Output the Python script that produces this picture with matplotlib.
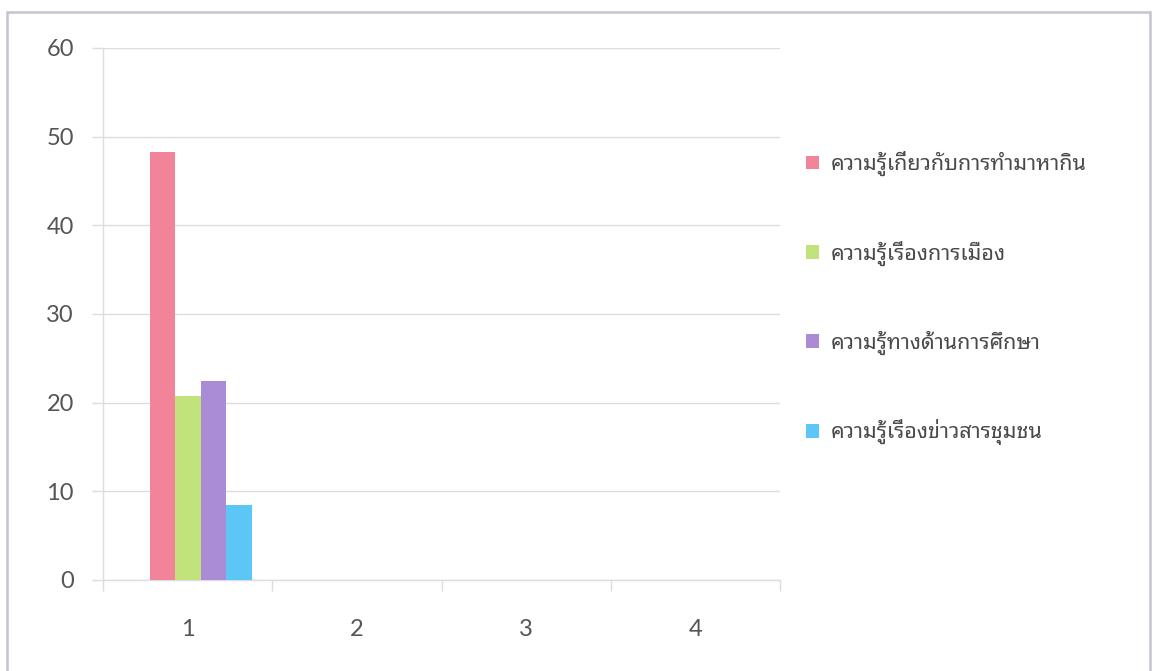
import matplotlib
matplotlib.use("Agg")
import matplotlib.pyplot as plt
from matplotlib.patches import Rectangle
import numpy as np

categories = ["1", "2", "3", "4"]
series_names = ["ความรู้เกี่ยวกับการทำมาหากิน", "ความรู้เรื่องการเมือง",
                "ความรู้ทางด้านการศึกษา", "ความรู้เรื่องข่าวสารชุมชน"]
s1 = [48.3, 0, 0, 0]
s2 = [20.7, 0, 0, 0]
s3 = [22.4, 0, 0, 0]
s4 = [8.5, 0, 0, 0]
series_values = [s1, s2, s3, s4]
colors = ["#F2849A", "#C2E27C", "#A98BD6", "#5CC7F7"]
y_ticks = [0, 10, 20, 30, 40, 50, 60]

W, H = 1154, 671
fig = plt.figure(figsize=(W / 100, H / 100), dpi=100)
fig.patch.set_facecolor("white")

# outer frame
fig.add_artist(Rectangle((7 / W, -0.02), (1150 - 7) / W, 1 - 12 / H + 0.02,
                         transform=fig.transFigure, fill=False,
                         edgecolor="#c4c4d2", linewidth=1.8))

ax = fig.add_axes([103 / W, 1 - 580 / H, (780 - 103) / W, (580 - 48) / H])
grid_c = "#dcdce2"
tick_font = ["Lato", "DejaVu Sans"]
thai_font = ["Noto Sans Thai Looped", "Loma", "DejaVu Sans"]

x = np.arange(1, len(categories) + 1)
bw = 0.151
offset = 0.078
handles = []
for i, (vals, c, name) in enumerate(zip(series_values, colors, series_names)):
    h = ax.bar(x + offset + (i - 1.5) * bw, vals, width=bw, color=c,
               label=name, zorder=3, linewidth=0)
    handles.append(h)

ax.set_xlim(0.5, len(categories) + 0.5)
ax.set_ylim(0, 60)
ax.set_yticks(y_ticks)
ax.set_yticklabels([str(v) for v in y_ticks])
ax.yaxis.grid(True, color=grid_c, linewidth=1.0, zorder=0)
ax.set_xticks(x)
ax.set_xticklabels(categories)
ax.set_xticks(np.arange(0.5, len(categories) + 1, 1.0), minor=True)
ax.tick_params(axis="x", which="major", length=0, pad=28, labelsize=17,
               labelcolor="#555555")
ax.tick_params(axis="x", which="minor", length=8, color=grid_c, width=1.0)
ax.tick_params(axis="y", which="major", length=8, color=grid_c, width=1.0,
               pad=13, labelsize=17, labelcolor="#555555")
for lab in ax.get_xticklabels() + ax.get_yticklabels():
    lab.set_fontfamily(tick_font)

for side in ["top", "right"]:
    ax.spines[side].set_visible(False)
ax.spines["left"].set_color(grid_c)
ax.spines["bottom"].set_color(grid_c)
ax.spines["left"].set_linewidth(1.0)
ax.spines["bottom"].set_linewidth(1.0)
ax.spines["left"].set_bounds(0, 60)

leg = fig.legend(handles=handles, labels=series_names,
                 loc="upper left", bbox_to_anchor=(806 / W, 1 - 151 / H),
                 frameon=False, prop={"family": thai_font, "size": 15.5},
                 handlelength=0.6, handleheight=0.6, handletextpad=0.55,
                 labelspacing=3.0, borderaxespad=0, borderpad=0)
for t in leg.get_texts():
    t.set_color("#4a4a4a")

fig.savefig("out.png", dpi=100)
